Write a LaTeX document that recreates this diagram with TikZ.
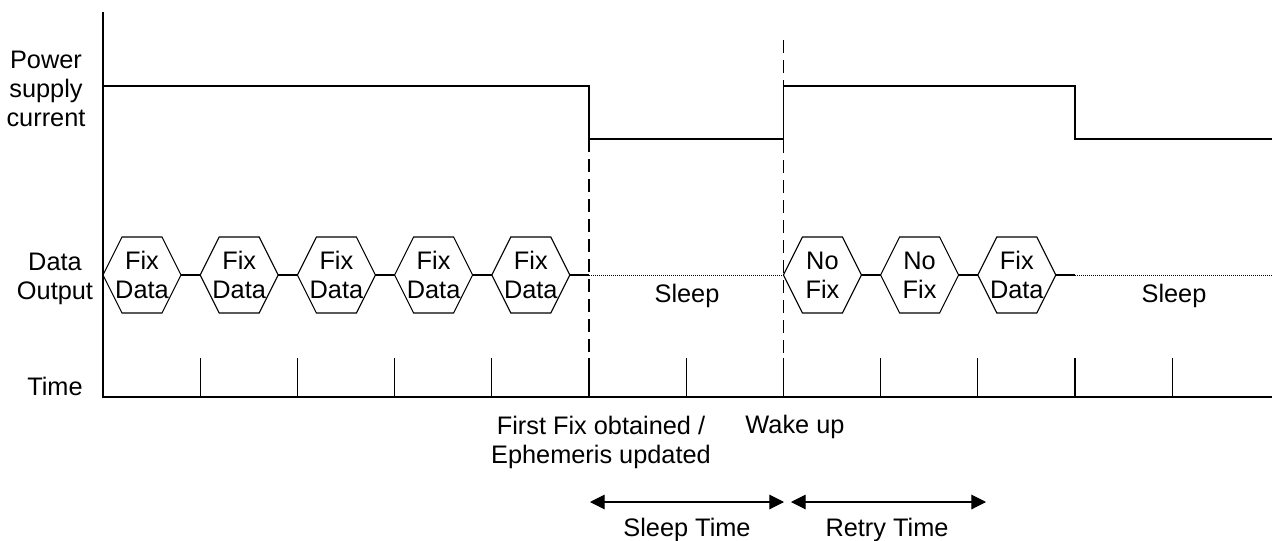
\documentclass[tikz,border=0pt]{standalone}
\usepackage{fontspec}
\setmainfont{Liberation Sans}
\usetikzlibrary{arrows.meta}

\tikzset{
  lbl/.style={font=\fontsize{19}{21.75}\selectfont, inner sep=0pt},
  hexbox/.style={lbl, align=center, minimum width=58.5pt, minimum height=57pt, outer sep=0pt},
  dashline/.style={dash pattern=on 10pt off 5pt},
  dotline/.style={dash pattern=on 0.75pt off 0.75pt, line width=0.5pt},
  span/.style={{Triangle[length=11pt,width=11pt]}-{Triangle[length=11pt,width=11pt]}}
}

\begin{document}
\begin{tikzpicture}[x=0.75pt,y=-0.75pt,line width=0.8pt]
        \useasboundingbox (0,0) rectangle (1279,540);
        %KOORDINAT
        \coordinate (top) at (103,12);
        \foreach \k in {0,...,12}
          \coordinate (t\k) at ({103+\k*97.2},397);
        \coordinate (tend) at (1272,397);
        %SUMBU
        \draw (top) -- (t0) -- (tend);
        \foreach \k in {1,...,11}
          \draw (t\k) -- ++(0,-39);
        %ARUS
        \draw (103,86) -- (t5 |- 0,86) -- (t5 |- 0,139) -- (t7 |- 0,139)
          -- (t7 |- 0,86) -- (t10 |- 0,86) -- (t10 |- 0,139) -- (tend |- 0,139);
        %GARIS PUTUS
        \draw[dashline] (t5 |- 0,139) -- (t5);
        \draw[dashline] (t7 |- 0,40) -- (t7);
        %HEKSAGON
        \foreach \k/\ta/\tb in {0/Fix/Data,1/Fix/Data,2/Fix/Data,3/Fix/Data,4/Fix/Data,7/No/Fix,8/No/Fix,9/Fix/Data} {
          \node[hexbox] (h\k) at ({103+\k*97.2+39},275) {\ta\\\tb};
          \draw (h\k.west) -- ([xshift=14.25pt]h\k.north west) -- ([xshift=-14.25pt]h\k.north east)
            -- (h\k.east) -- ([xshift=-14.25pt]h\k.south east) -- ([xshift=14.25pt]h\k.south west) -- cycle;
        }
        \foreach \a/\b in {0/1,1/2,2/3,3/4,7/8,8/9}
          \draw (h\a.east) -- (h\b.west);
        \draw (h4.east) -- (h4.east -| t5);
        \draw[dotline] (h4.east -| t5) -- (h7.west);
        \draw (h9.east) -- (h9.east -| t10);
        \draw[dotline] (h9.east -| t10) -- (h9.east -| tend);
        %LABEL KIRI
        \node[lbl, align=center] (power) at (46,89) {Power\\supply\\current};
        \node[lbl, align=center] (data) at (55,279) {Data\\Output};
        \node[lbl, anchor=base] (time) at (55,395) {Time};
        \node[lbl, anchor=base] (sleepa) at (687,302) {Sleep};
        \node[lbl, anchor=base] (sleepb) at (1174,302) {Sleep};
        %LABEL BAWAH
        \node[lbl, align=center] (fix) at (601,442) {First Fix obtained /\\Ephemeris updated};
        \node[lbl, anchor=base] (wake) at (795,433) {Wake up};
        %PANAH
        \coordinate (sa) at (590,502);
        \coordinate (sb) at (784,502);
        \coordinate (ra) at (791,502);
        \coordinate (rb) at (986,502);
        \draw[span] (sa) -- (sb);
        \draw[span] (ra) -- (rb);
        \node[lbl, anchor=base] (sleeptime) at (687,536) {Sleep Time};
        \node[lbl, anchor=base] (retrytime) at (887,536) {Retry Time};
\end{tikzpicture}
\end{document}
